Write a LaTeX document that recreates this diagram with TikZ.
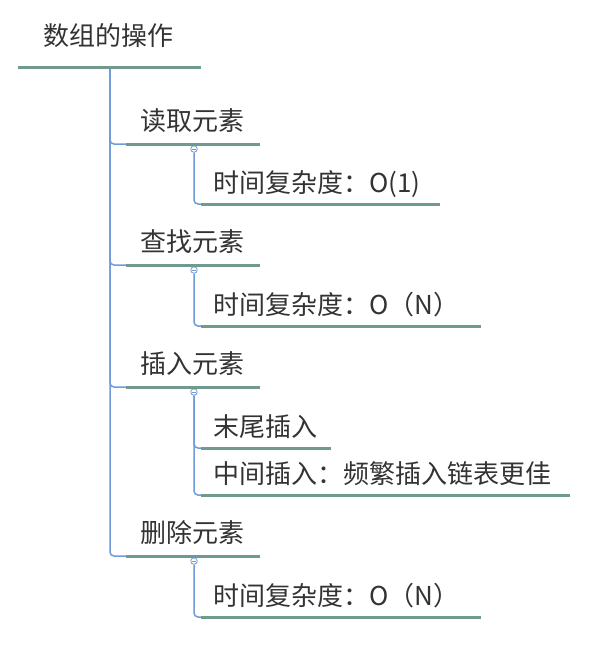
\documentclass[tikz,border=0pt]{standalone}
\usepackage{fontspec}
\setmainfont{Noto Sans CJK SC}
\usetikzlibrary{positioning}
\definecolor{lineteal}{HTML}{6F9A8D}
\definecolor{branchblue}{HTML}{6F9BD8}
\definecolor{textdark}{HTML}{333333}

\begin{document}
\begin{tikzpicture}[x=1pt,y=-1pt,
  topic/.style={anchor=south west, inner ysep=0pt, text=textdark,
    font=\fontsize{26}{30}\selectfont, text height=18pt},
  roottopic/.style={topic, inner xsep=25pt, text depth=21pt},
  subtopic/.style={topic, inner xsep=14pt, text depth=13pt},
  leaftopic/.style={topic, inner xsep=12pt, text depth=11pt},
  uline/.style={lineteal, line width=3pt},
  branch/.style={branchblue, line width=1.5pt, rounded corners=4pt},
  fold/.style={circle, draw=branchblue, fill=white, line width=0.8pt,
    minimum size=6.5pt, inner sep=0pt,
    path picture={\draw[branchblue, line width=0.6pt]
      ([xshift=1.6pt]path picture bounding box.west) --
      ([xshift=-1.6pt]path picture bounding box.east);}}
]
  \useasboundingbox (0,0) rectangle (613,654);

  % topics
  \node[roottopic] (root) at (18,67) {数组的操作};

  \node[subtopic] (read) at (126,144) {读取元素};
  \node[leaftopic] (readtime) at (201,204) {时间复杂度：O(1)};

  \node[subtopic] (find) at (126,265) {查找元素};
  \node[leaftopic] (findtime) at (201,326) {时间复杂度：O（N）};

  \node[subtopic] (insert) at (126,387) {插入元素};
  \node[leaftopic] (inserttail) at (201,448) {末尾插入};
  \node[leaftopic] (insertmid) at (201,495) {中间插入：频繁插入链表更佳};

  \node[subtopic] (delete) at (126,556) {删除元素};
  \node[leaftopic] (deletetime) at (201,617) {时间复杂度：O（N）};

  % branches from the root
  \coordinate (rootfork) at (110,67);
  \foreach \n in {read,find,insert,delete}
    \draw[branch] (rootfork) |- (\n.south west);

  % branches to the leaves
  \node[fold] (readfold) at (194,149) {};
  \node[fold] (findfold) at (194,270) {};
  \node[fold] (insertfold) at (194,392) {};
  \node[fold] (deletefold) at (194,561) {};

  \draw[branch] (readfold.south) |- (readtime.south west);
  \draw[branch] (findfold.south) |- (findtime.south west);
  \draw[branch] (insertfold.south) |- (inserttail.south west);
  \draw[branch] (insertfold.south) |- (insertmid.south west);
  \draw[branch] (deletefold.south) |- (deletetime.south west);

  % underlines, with their lengths
  \foreach \n/\w in {root/183,read/134,readtime/239,find/134,findtime/280,
      insert/134,inserttail/130,insertmid/369,delete/134,deletetime/280}
    \draw[uline] (\n.south west) -- ++(\w,0);
\end{tikzpicture}
\end{document}
